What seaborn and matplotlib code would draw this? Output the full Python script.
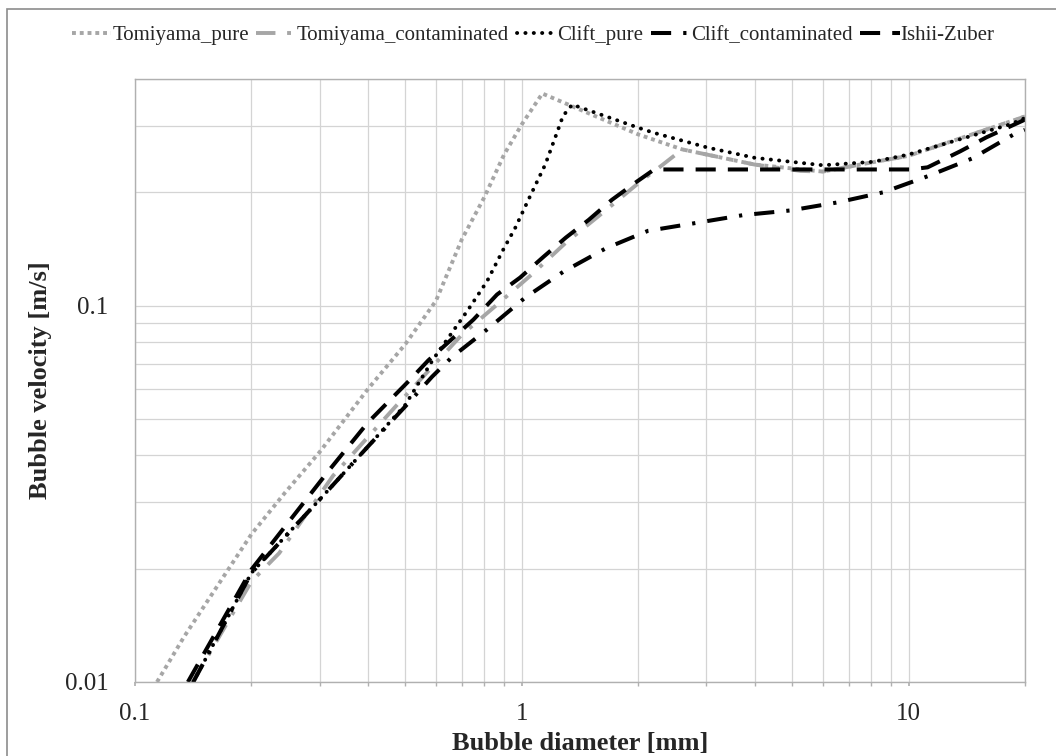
import numpy as np
import pandas as pd
import matplotlib
matplotlib.use("Agg")
import matplotlib.pyplot as plt
import seaborn as sns
from matplotlib.ticker import LogLocator, NullFormatter
from matplotlib.patches import Rectangle

# ---------------- data ----------------
tp_d = [0.114, 0.134, 0.161, 0.2, 0.244, 0.3, 0.4, 0.5, 0.6, 0.7, 0.8, 0.9, 1.0, 1.13,
        2.0, 2.6, 4.0, 6.0, 8.0, 10.0, 20.0]
tp_v = [0.0100, 0.0132, 0.0176, 0.0247, 0.0318, 0.0408, 0.0600, 0.079, 0.103, 0.150, 0.194,
        0.252, 0.303, 0.366, 0.285, 0.260, 0.237, 0.227, 0.240, 0.250, 0.318]

tc_d = [0.141, 0.2, 0.236, 0.325, 0.476, 0.7, 0.863, 1.06, 1.3, 1.62, 2.03, 2.28, 2.6,
        3.3, 4.0, 5.25, 6.0, 8.0, 10.0, 20.0]
tc_v = [0.0100, 0.0185, 0.0220, 0.0353, 0.0545, 0.0837, 0.1006, 0.1209, 0.147, 0.1766,
        0.214, 0.234, 0.260, 0.247, 0.237, 0.228, 0.227, 0.240, 0.250, 0.318]

cp_d = [0.1415, 0.2, 0.3, 0.4, 0.5, 0.59, 0.727, 0.813, 0.896, 0.962, 1.05, 1.15, 1.233,
        1.278, 1.35, 2.0, 2.19, 3.02, 4.0, 6.0, 8.1, 10.0, 18.3, 20.0]
cp_v = [0.0100, 0.0195, 0.0305, 0.0422, 0.0545, 0.072, 0.0976, 0.116, 0.141, 0.161, 0.195,
        0.237, 0.288, 0.319, 0.342, 0.297, 0.288, 0.263, 0.247, 0.236, 0.241, 0.252, 0.303, 0.315]

cc_d = [0.1415, 0.2, 0.3, 0.4, 0.5, 0.586, 0.66, 0.82, 1.02, 1.28, 1.65, 2.12, 2.84, 3.74,
        4.95, 6.55, 8.6, 11.2, 14.6, 18.7, 20.0]
cc_v = [0.0100, 0.0195, 0.0305, 0.0422, 0.054, 0.0647, 0.073, 0.087, 0.105, 0.123, 0.142,
        0.158, 0.166, 0.174, 0.179, 0.188, 0.200, 0.2206, 0.246, 0.285, 0.293]

iz_d = [0.137, 0.2, 0.316, 0.4, 0.51, 0.573, 0.75, 0.863, 0.99, 1.14, 1.3, 1.49, 1.71,
        1.99, 2.2, 5.0, 10.1, 11.2, 13.6, 15.9, 20.0]
iz_v = [0.0100, 0.0199, 0.0363, 0.0489, 0.063, 0.0715, 0.0918, 0.107, 0.1187, 0.135, 0.1516,
        0.169, 0.191, 0.214, 0.230, 0.230, 0.230, 0.233, 0.257, 0.280, 0.312]

series_names = ["Tomiyama_pure", "Tomiyama_contaminated", "Clift_pure",
                "Clift_contaminated", "Ishii-Zuber"]
x_ticks = [0.1, 1, 10]
x_tick_labels = ["0.1", "1", "10"]
y_ticks = [0.01, 0.1]
y_tick_labels = ["0.01", "0.1"]

# ---------------- style ----------------
sns.set_theme(style="white")
plt.rcParams["font.family"] = ["Liberation Serif", "DejaVu Serif"]

fig = plt.figure(figsize=(10.56, 7.56), dpi=100)
ax = fig.add_axes([135 / 1056, 1 - 682 / 756, (1025 - 135) / 1056, (682 - 79) / 756])

gray = "#a6a6a6"
styles = [
    dict(color=gray, lw=2.8, linestyle=(0, (1, 1)), dash_capstyle="butt"),
    dict(color=gray, lw=2.8, linestyle=(0, (5, 3, 1, 3)), dash_capstyle="butt"),
    dict(color="black", lw=2.8, linestyle=(0, (0.05, 2.1)), dash_capstyle="round"),
    dict(color="black", lw=2.9, linestyle=(0, (5, 3, 0.8, 3)), dash_capstyle="butt"),
    dict(color="black", lw=2.9, linestyle=(0, (5, 3)), dash_capstyle="butt"),
]
data = [(tp_d, tp_v), (tc_d, tc_v), (cp_d, cp_v), (cc_d, cc_v), (iz_d, iz_v)]

for name, (d, v), st in zip(series_names, data, styles):
    df = pd.DataFrame({"d": d, "v": v})
    sns.lineplot(data=df, x="d", y="v", ax=ax, sort=False, estimator=None,
                 label=name, **st)

ax.set_xscale("log")
ax.set_yscale("log")
ax.set_xlim(0.1, 20)
ax.set_ylim(0.01, 0.4)

ax.set_xticks(x_ticks)
ax.set_xticklabels(x_tick_labels)
ax.set_yticks(y_ticks)
ax.set_yticklabels(y_tick_labels)
ax.xaxis.set_minor_locator(LogLocator(base=10, subs=np.arange(2, 10)))
ax.yaxis.set_minor_locator(LogLocator(base=10, subs=np.arange(2, 10)))
ax.xaxis.set_minor_formatter(NullFormatter())
ax.yaxis.set_minor_formatter(NullFormatter())

ax.grid(True, which="both", color="#d4d4d4", lw=0.9)
ax.set_axisbelow(True)
for s in ax.spines.values():
    s.set_color("#b0b0b0")
    s.set_linewidth(1.0)

ax.tick_params(axis="x", which="both", direction="out", length=3, color="#b0b0b0",
               labelsize=18, pad=12, bottom=True)
ax.tick_params(axis="y", which="both", length=0, labelsize=18, pad=19, left=True)

ax.set_xlabel("Bubble diameter [mm]", fontsize=19, fontweight="bold", labelpad=5)
ax.set_ylabel("Bubble velocity [m/s]", fontsize=19, fontweight="bold", labelpad=9)

ax.get_legend().remove()
handles, labels = ax.get_legend_handles_labels()
fig.legend(handles, labels, loc="center", bbox_to_anchor=(0.505, 1 - 35 / 756),
           ncol=5, frameon=False, fontsize=15, handlelength=1.9,
           handletextpad=0.05, columnspacing=0.35)

fig.patches.append(Rectangle((7 / 1056, -0.05), 1.1, 1 - 9 / 756 + 0.05,
                             transform=fig.transFigure, fill=False,
                             ec="#8c8c8c", lw=1.2))

fig.savefig("out.png", dpi=100)
